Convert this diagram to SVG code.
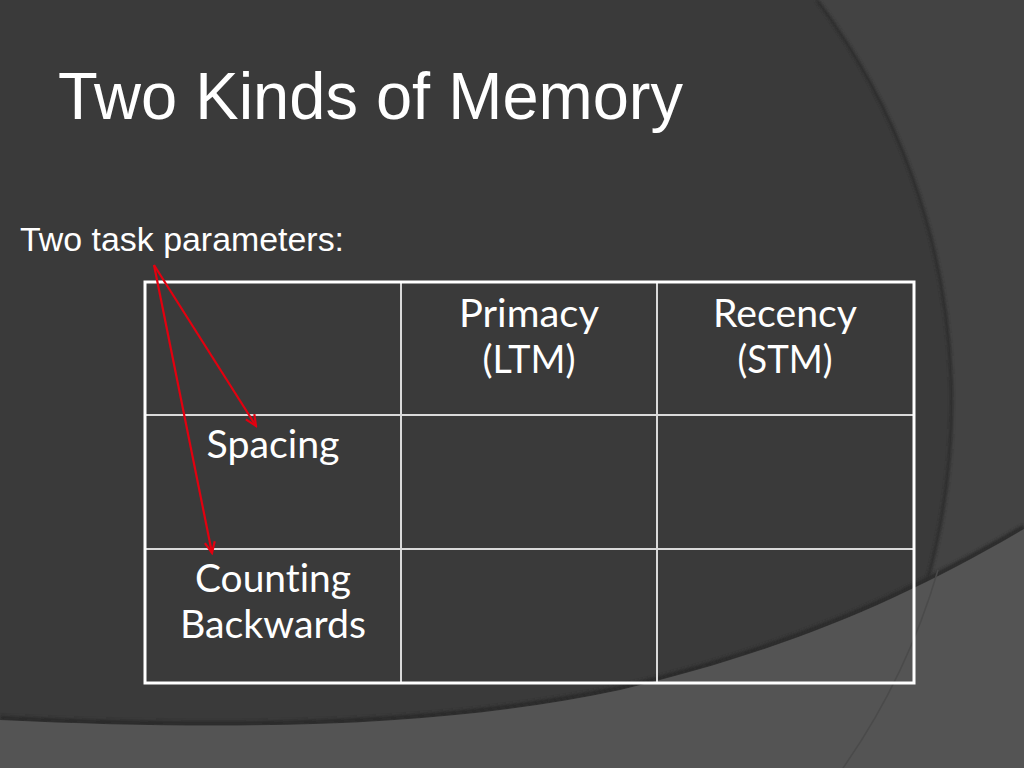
<svg xmlns="http://www.w3.org/2000/svg" width="1024" height="768" viewBox="0 0 1024 768">
<defs>
<style>
.title{font-family:"Liberation Sans",Arial,sans-serif;fill:#ffffff;}
.cell{font-family:Lato,"Open Sans",sans-serif;font-size:38px;fill:#ffffff;text-anchor:middle;font-variant-ligatures:none;font-feature-settings:"liga" 0,"clig" 0;}
.grid{stroke:#d9d9d9;stroke-width:2;fill:none;}
.outer{stroke:#ffffff;stroke-width:3;fill:none;}
.arrow{stroke:#e3000f;stroke-width:2.2;fill:none;marker-end:url(#vhead);}
</style>
<marker id="vhead" viewBox="0 0 14 12" refX="12" refY="6" markerWidth="14" markerHeight="12" markerUnits="userSpaceOnUse" orient="auto">
<path d="M1,1 L12,6 L1,11" fill="none" stroke="#e3000f" stroke-width="2.2"/>
</marker>
<filter id="soft" x="-10%" y="-10%" width="120%" height="120%"><feGaussianBlur stdDeviation="1.5"/></filter>
</defs>
<g id="background">
<rect x="0" y="0" width="1024" height="768" fill="#3a3a3a"/>
<path d="M817,0 A669,669 0 0,1 843,768 L1024,768 L1024,0 Z" fill="#434343"/>
<path d="M817,0 A669,669 0 0,1 843,768" fill="none" stroke="#2c2c2c" stroke-width="3" filter="url(#soft)"/>
<path d="M0,718 C250,730 450,724 620,688 C780,650 900,600 1024,527" fill="none" stroke="#2c2c2c" stroke-width="5" filter="url(#soft)"/>
<path d="M0,720 C250,732 450,726 620,690 C780,652 900,602 1024,529 L1024,768 L0,768 Z" fill="#545454"/>
<path d="M938,570 A669,669 0 0,1 843,768" fill="none" stroke="#4a4a4a" stroke-width="1.5"/>
</g>
<g id="title">
<text class="title" x="58" y="119" font-size="67" textLength="625" lengthAdjust="spacingAndGlyphs">Two Kinds of Memory</text>
</g>
<g id="subtitle">
<text class="title" x="20" y="251" font-size="33" textLength="324" lengthAdjust="spacingAndGlyphs">Two task parameters:</text>
</g>
<g id="table">
<line class="grid" x1="401" y1="282" x2="401" y2="683"/>
<line class="grid" x1="657" y1="282" x2="657" y2="683"/>
<line class="grid" x1="145" y1="415" x2="914" y2="415"/>
<line class="grid" x1="145" y1="549" x2="914" y2="549"/>
<rect class="outer" x="145" y="282" width="769" height="401"/>
</g>
<g id="cell-primacy">
<text class="cell" x="529" y="327" textLength="140" lengthAdjust="spacingAndGlyphs">Primacy</text>
<text class="cell" x="529" y="373" textLength="93" lengthAdjust="spacingAndGlyphs">(LTM)</text>
</g>
<g id="cell-recency">
<text class="cell" x="785" y="327" textLength="144" lengthAdjust="spacingAndGlyphs">Recency</text>
<text class="cell" x="785" y="373" textLength="95" lengthAdjust="spacingAndGlyphs">(STM)</text>
</g>
<g id="cell-spacing">
<text class="cell" x="273" y="458" textLength="133" lengthAdjust="spacingAndGlyphs">Spacing</text>
</g>
<g id="cell-counting">
<text class="cell" x="273" y="592" textLength="156" lengthAdjust="spacingAndGlyphs">Counting</text>
<text class="cell" x="273" y="638" textLength="186" lengthAdjust="spacingAndGlyphs">Backwards</text>
</g>
<g id="connectors">
<line class="arrow" x1="154" y1="265" x2="256" y2="426"/>
<line class="arrow" x1="154" y1="265" x2="212" y2="553"/>
</g>
</svg>
